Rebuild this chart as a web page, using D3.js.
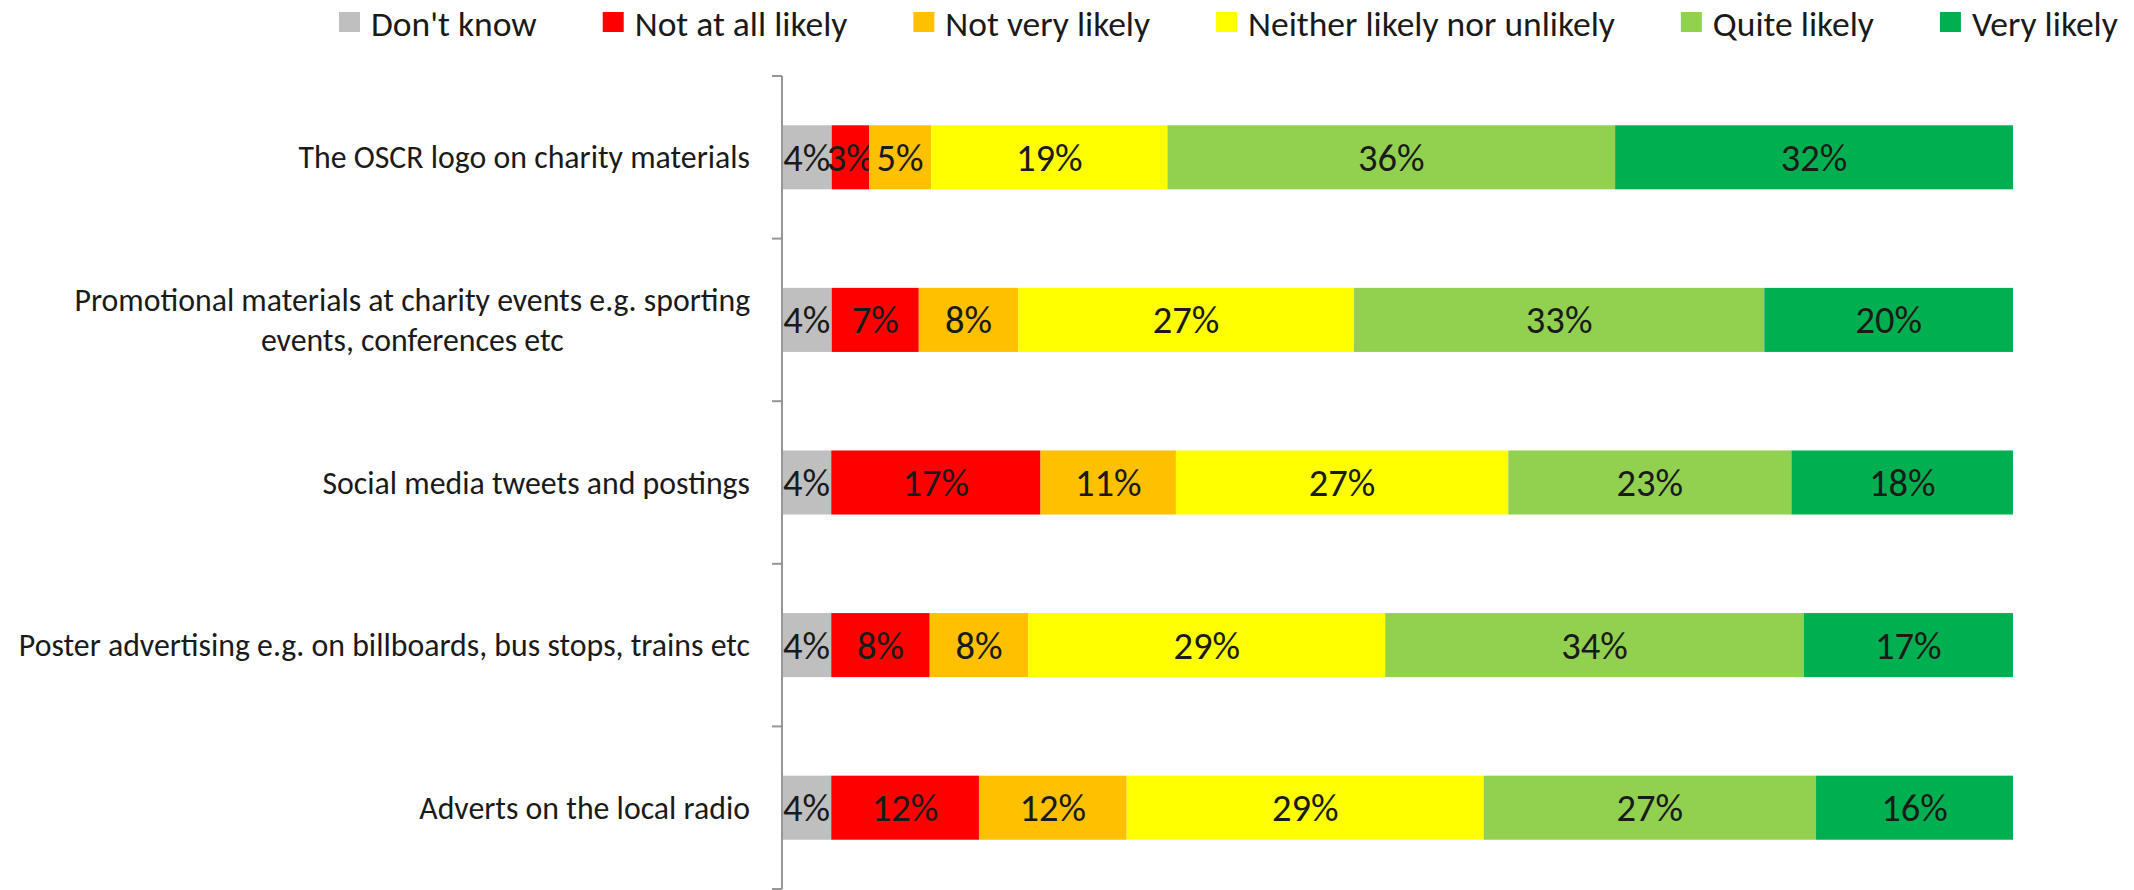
<!DOCTYPE html>
<html>
<head>
<meta charset="utf-8">
<script src="https://cdn.jsdelivr.net/npm/d3@7"></script>
<style>
  html, body { margin: 0; padding: 0; background: #fff; }
  svg { display: block; }
</style>
</head>
<body>
<svg id="chart" width="2134" height="890"></svg>
<script>
// ---- data ----
const categories = [
  "The OSCR logo on charity materials",
  "Promotional materials at charity events e.g. sporting\nevents, conferences etc",
  "Social media tweets and postings",
  "Poster advertising e.g. on billboards, bus stops, trains etc",
  "Adverts on the local radio"
];
const seriesNames = ["Don't know", "Not at all likely", "Not very likely", "Neither likely nor unlikely", "Quite likely", "Very likely"];
const dontKnow      = [4, 4, 4, 4, 4];
const notAtAll      = [3, 7, 17, 8, 12];
const notVery       = [5, 8, 11, 8, 12];
const neither       = [19, 27, 27, 29, 29];
const quite         = [36, 33, 23, 34, 27];
const very          = [32, 20, 18, 17, 16];
const seriesColors  = ["#BFBFBF", "#FF0000", "#FFC000", "#FFFF00", "#92D050", "#00B050"];

const seriesValues = [dontKnow, notAtAll, notVery, neither, quite, very];
const rows = categories.map((c, i) => {
  const r = { category: c };
  seriesNames.forEach((s, j) => r[s] = seriesValues[j][i]);
  return r;
});

const FONT = "Carlito, Lato, 'Liberation Sans', sans-serif";
const svg = d3.select("#chart");

const x0 = 782, x1 = 2013, yTop = 76, yBot = 889;
const x = d3.scaleLinear().domain([0, 1]).range([x0, x1]);
const y = d3.scaleBand().domain(categories).range([yTop, yBot]).paddingInner(0.606).paddingOuter(0.303);

const stack = d3.stack().keys(seriesNames).offset(d3.stackOffsetExpand);
const stacked = stack(rows);

// bars
const g = svg.append("g");
const layers = g.selectAll("g.layer").data(stacked).enter().append("g")
  .attr("fill", (d, i) => seriesColors[i]);
layers.selectAll("rect").data(d => d).enter().append("rect")
  .attr("x", d => x(d[0]))
  .attr("y", d => y(d.data.category))
  .attr("width", d => x(d[1]) - x(d[0]))
  .attr("height", y.bandwidth());

// data labels
layers.each(function(layer) {
  d3.select(this).selectAll("text").data(layer).enter().append("text")
    .attr("x", d => (x(d[0]) + x(d[1])) / 2)
    .attr("y", d => y(d.data.category) + y.bandwidth() / 2)
    .attr("dy", "0.35em")
    .attr("text-anchor", "middle")
    .attr("font-family", FONT)
    .attr("font-size", 38.5)
    .attr("fill", "#1a1a1a")
    .text(d => d.data[layer.key] + "%");
});

// axis
const axisG = svg.append("g");
axisG.append("line").attr("x1", x0).attr("x2", x0).attr("y1", yTop).attr("y2", yBot)
  .attr("stroke", "#969696").attr("stroke-width", 2);
const boundaries = d3.range(categories.length + 1).map(i => yTop + i * y.step());
axisG.selectAll("line.tick").data(boundaries).enter().append("line")
  .attr("x1", x0 - 10).attr("x2", x0).attr("y1", d => d).attr("y2", d => d)
  .attr("stroke", "#969696").attr("stroke-width", 2);

// category labels
const labelRight = 750, labelSize = 31.8, lineH = 39.5;
categories.forEach(c => {
  const lines = c.split("\n");
  const cy = y(c) + y.bandwidth() / 2;
  const t = svg.append("text")
    .attr("font-family", FONT).attr("font-size", labelSize).attr("fill", "#1a1a1a");
  const spans = lines.map((ln, i) => t.append("tspan").text(ln)
      .attr("dy", "0.35em"));
  const widths = spans.map(s => s.node().getComputedTextLength());
  const w = d3.max(widths);
  const cx = labelRight - w / 2;
  t.attr("text-anchor", "middle");
  spans.forEach((s, i) => s.attr("x", cx).attr("y", cy + (i - (lines.length - 1) / 2) * lineH));
});

// legend
let lx = 339;
const legend = svg.append("g");
seriesNames.forEach((s, i) => {
  legend.append("rect").attr("x", lx).attr("y", 12).attr("width", 21).attr("height", 20).attr("fill", seriesColors[i]);
  const t = legend.append("text").attr("x", lx + 32).attr("y", 36)
    .attr("font-family", FONT).attr("font-size", 35.5).attr("fill", "#1a1a1a").text(s);
  lx += 32 + t.node().getComputedTextLength() + 66;
});
</script>
</body>
</html>
